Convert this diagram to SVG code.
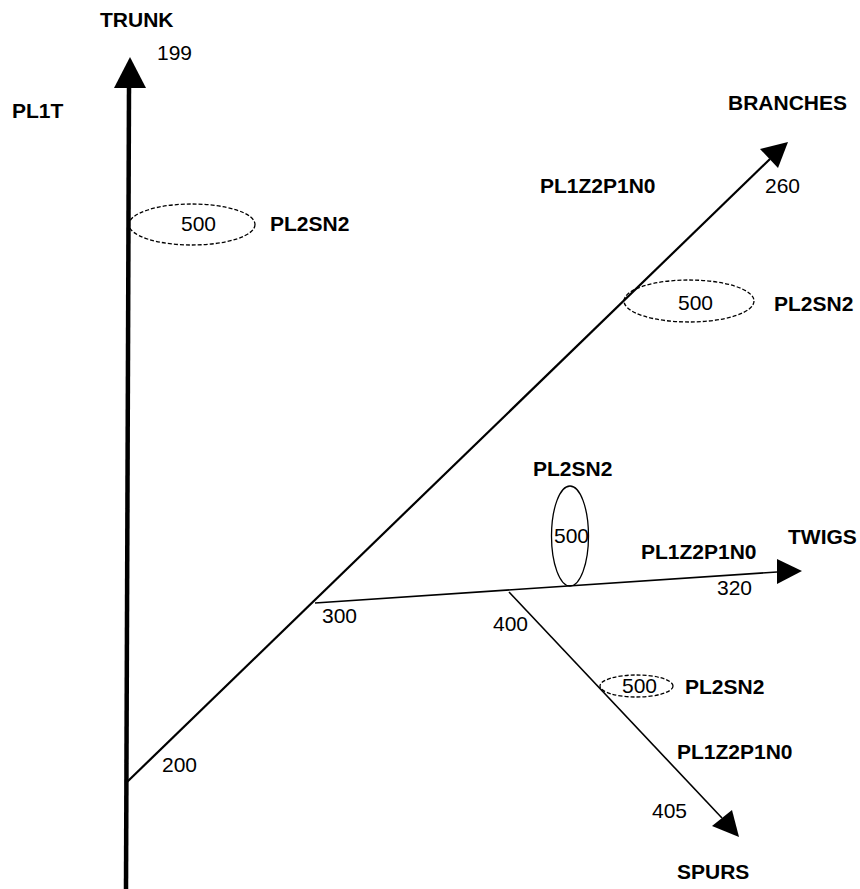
<svg xmlns="http://www.w3.org/2000/svg" width="860" height="889" viewBox="0 0 860 889">
<style>
.b{font-family:"Liberation Sans",Arial,sans-serif;font-weight:bold;font-size:21px;fill:#000}
.n{font-family:"Liberation Sans",Arial,sans-serif;font-size:21px;fill:#000}
.e{fill:none;stroke:#000;stroke-width:1.3}
.d{stroke-dasharray:4 2}
.ln{stroke:#000;fill:none}
.ah{fill:#000}
</style>
<rect width="860" height="889" fill="#fff"/>
<g id="connectors">
  <line class="ln" x1="126" y1="889" x2="129" y2="86" stroke-width="4.5"/>
  <polygon class="ah" points="130,57 114,88 146,88"/>
  <line class="ln" x1="127" y1="782" x2="770" y2="159" stroke-width="2.2"/>
  <polygon class="ah" points="788,142 760,149 778,168"/>
  <line class="ln" x1="315" y1="603" x2="777" y2="572" stroke-width="1.6"/>
  <polygon class="ah" points="802,571 777,559 777,584"/>
  <line class="ln" x1="509" y1="592" x2="722" y2="818" stroke-width="1.6"/>
  <polygon class="ah" points="739,837 712,826 732,810"/>
</g>
<g id="trunk">
  <text class="b" x="100" y="27">TRUNK</text>
  <text class="n" x="157" y="60">199</text>
  <text class="b" x="12" y="118">PL1T</text>
</g>
<g id="trunk-node">
  <ellipse class="e d" cx="192" cy="224.5" rx="63" ry="20.5"/>
  <text class="n" x="181" y="231">500</text>
  <text class="b" x="270" y="231">PL2SN2</text>
</g>
<g id="branches">
  <text class="b" x="728" y="110">BRANCHES</text>
  <text class="b" x="540" y="193">PL1Z2P1N0</text>
  <text class="n" x="765" y="193">260</text>
</g>
<g id="branches-node">
  <ellipse class="e d" cx="689" cy="301" rx="65" ry="21"/>
  <text class="n" x="678" y="310">500</text>
  <text class="b" x="774" y="311">PL2SN2</text>
</g>
<g id="twigs">
  <text class="b" x="788" y="544">TWIGS</text>
  <text class="b" x="641" y="559">PL1Z2P1N0</text>
  <text class="n" x="717" y="595">320</text>
  <text class="n" x="322" y="623">300</text>
</g>
<g id="twigs-node">
  <ellipse class="e" cx="570" cy="536" rx="18.5" ry="50"/>
  <text class="b" x="533" y="476">PL2SN2</text>
  <text class="n" x="554" y="543">500</text>
</g>
<g id="spurs">
  <text class="n" x="493" y="631">400</text>
  <text class="b" x="677" y="759">PL1Z2P1N0</text>
  <text class="n" x="652" y="818">405</text>
  <text class="b" x="677" y="879">SPURS</text>
</g>
<g id="spurs-node">
  <ellipse class="e d" cx="636.5" cy="686" rx="36.5" ry="11"/>
  <text class="n" x="622" y="693">500</text>
  <text class="b" x="685" y="694">PL2SN2</text>
</g>
<g id="root">
  <text class="n" x="162" y="772">200</text>
</g>
</svg>
